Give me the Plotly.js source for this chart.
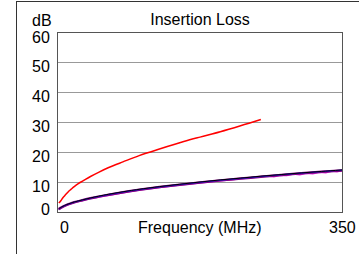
<!DOCTYPE html>
<html>
<head>
<meta charset="utf-8">
<script src="https://cdn.plot.ly/plotly-3.0.1.min.js"></script>
<style>
html,body{margin:0;padding:0;background:#fff;}
#wrap{position:relative;width:359px;height:254px;overflow:hidden;}
#frame{position:absolute;left:16px;top:1px;width:400px;height:300px;border-left:1px solid #333;border-top:1px solid #333;}
#chart{position:absolute;left:0;top:0;width:359px;height:254px;}
</style>
</head>
<body>
<div id="wrap"><div id="frame"></div><div id="chart"></div></div>
<script>
// Measured curves (MHz, dB)
var freq = [1, 2, 4, 6, 8, 10, 15, 20, 30, 40, 50, 62.5, 75, 87.5, 100, 125, 150, 175, 200, 225, 250, 275, 300, 325, 350];
var purpleLoss = [0.9, 1.15, 1.5, 1.8, 2.05, 2.3, 2.8, 3.25, 3.95, 4.6, 5.15, 5.8, 6.4, 6.95, 7.45, 8.35, 9.15, 9.9, 10.6, 11.2, 11.8, 12.4, 12.95, 13.45, 13.95];
var blackLoss  = [1.0, 1.25, 1.6, 1.9, 2.15, 2.4, 2.9, 3.35, 4.05, 4.7, 5.3, 5.95, 6.55, 7.1, 7.6, 8.5, 9.3, 10.05, 10.75, 11.35, 12.0, 12.55, 13.1, 13.6, 14.1];
var blueLoss   = [0.9, 1.15, 1.55, 1.85, 2.1, 2.35, 2.85, 3.3, 4.0, 4.65, 5.2, 5.85, 6.45, 7.0, 7.5, 8.4, 9.2, 9.95, 10.65, 11.25, 11.9, 12.5, 13.05, 13.55, 14.05];
var freqMagenta = [1, 4, 10, 20, 40, 75, 100, 150, 200, 230, 245, 258, 266, 274, 282, 290, 298, 306, 314, 322, 330, 338, 344, 350];
var magentaLoss = [0.8, 1.4, 2.2, 3.15, 4.5, 6.3, 7.35, 9.05, 10.45, 11.15, 11.55, 12.05, 11.85, 12.35, 12.2, 12.75, 12.5, 13.0, 12.85, 13.35, 13.2, 13.7, 13.5, 13.9];
// Limit line
var freqLimit = [1, 2, 3, 4, 6, 8, 10, 13, 16, 20, 25, 31.25, 40, 50, 62.5, 80, 100, 125, 155, 175, 200, 225, 250];
var limitLoss = [3.0, 3.3, 3.6, 4.0, 4.8, 5.4, 6.0, 6.9, 7.6, 8.5, 9.5, 10.5, 11.9, 13.3, 14.9, 16.8, 18.9, 21.1, 23.6, 25.1, 26.9, 28.9, 31.0];

// Tick labels
var xTickVals = [0, 350];
var xTickText = ['0', '350'];
var yTickVals = [0, 10, 20, 30, 40, 50, 60];
var yTickText = ['0', '10', '20', '30', '40', '50', '60'];

var traces = [
  {x: freqMagenta, y: magentaLoss, mode: 'lines', line: {color: '#e020e0', width: 1.5}, hoverinfo: 'skip'},
  {x: freq, y: purpleLoss, mode: 'lines', line: {color: '#800080', width: 2.5, shape: 'spline'}, hoverinfo: 'skip'},
  {x: freq, y: blueLoss, mode: 'lines', line: {color: '#2020ff', width: 1, shape: 'spline'}, hoverinfo: 'skip'},
  {x: freq, y: blackLoss, mode: 'lines', line: {color: '#000000', width: 1, shape: 'spline'}, hoverinfo: 'skip'},
  {x: freqLimit, y: limitLoss, mode: 'lines', line: {color: '#ff0000', width: 1.5, shape: 'spline'}, hoverinfo: 'skip'}
];

var font = {family: '"Liberation Sans", Arial, sans-serif', size: 16, color: '#000'};

var annotations = [
  {text: 'Frequency (MHz)', xref: 'paper', yref: 'paper', x: 0.5, y: -(228-212)/179, xanchor: 'center', yanchor: 'middle', showarrow: false, font: font},
  {text: 'dB', xref: 'paper', yref: 'paper', x: (42-58)/284, y: 1 + (33-20)/179, xanchor: 'center', yanchor: 'middle', showarrow: false, font: font}
];
// y tick labels: printed slightly below their gridlines, the 0 kept above the axis
yTickVals.forEach(function (v, i) {
  annotations.push({text: yTickText[i], xref: 'paper', yref: 'y', x: (52-58)/284, y: v,
    xanchor: 'right', yanchor: 'middle', yshift: v === 0 ? 2.5 : -4, showarrow: false, font: font});
});
// x tick labels: first one starts at the axis origin, last one centred on its tick
xTickVals.forEach(function (v, i) {
  annotations.push({text: xTickText[i], xref: 'x', yref: 'paper', x: v, y: -(228-212)/179,
    xanchor: i === 0 ? 'left' : 'center', yanchor: 'middle', showarrow: false, font: font});
});

var layout = {
  width: 359, height: 254,
  margin: {l: 58, r: 17, t: 33, b: 42, pad: 0},
  paper_bgcolor: 'rgba(0,0,0,0)',
  plot_bgcolor: '#fff',
  showlegend: false,
  font: font,
  title: {text: 'Insertion Loss', font: font, x: 0.5, xref: 'paper', xanchor: 'center', y: 1 - 19/254, yref: 'container', yanchor: 'middle'},
  xaxis: {
    range: [0, 350], tickvals: xTickVals, showticklabels: false,
    showgrid: false, zeroline: false,
    showline: true, mirror: true, linecolor: '#555', linewidth: 1, ticks: ''
  },
  yaxis: {
    range: [0, 60], tickvals: yTickVals, showticklabels: false,
    showgrid: true, gridcolor: '#999', gridwidth: 1, zeroline: false,
    showline: true, mirror: true, linecolor: '#555', linewidth: 1, ticks: ''
  },
  annotations: annotations
};

Plotly.newPlot('chart', traces, layout, {staticPlot: true, displayModeBar: false});
</script>
</body>
</html>
